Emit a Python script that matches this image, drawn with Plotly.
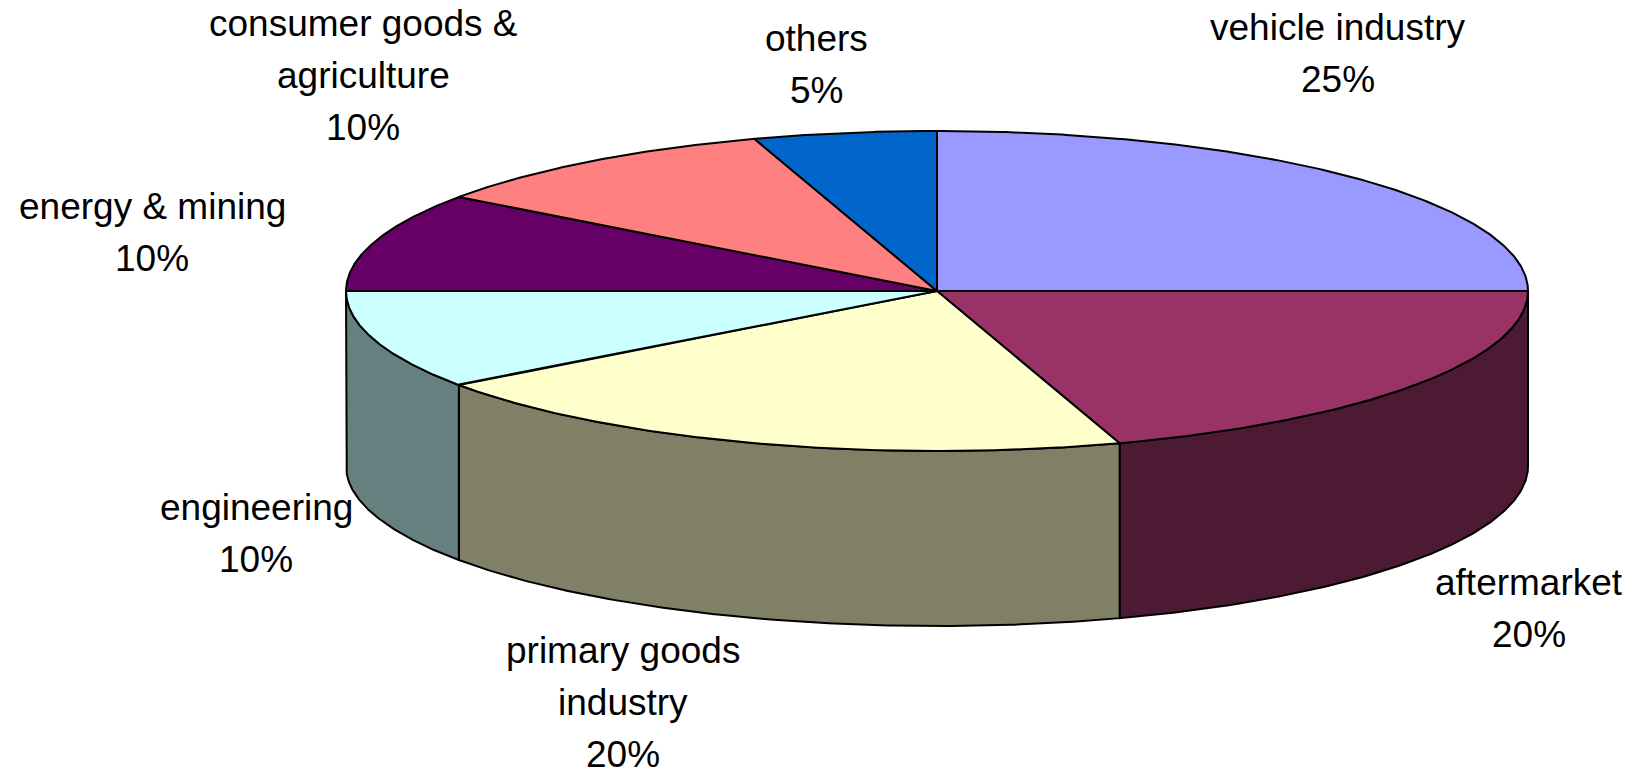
import numpy as np
import plotly.graph_objects as go

# Market share by customer segment (percent)
segments = [
    "vehicle industry",
    "aftermarket",
    "primary goods<br>industry",
    "engineering",
    "energy & mining",
    "consumer goods &<br>agriculture",
    "others",
]
shares = [25, 20, 20, 10, 10, 10, 5]
top_colors = ["#9999FF", "#993366", "#FFFFCC", "#CCFFFF", "#660066", "#FF8080", "#0066CC"]

# Label anchors: (centre x, baseline of first line) in page pixels
label_anchor = [
    (1338, 40),
    (1529, 595),
    (623, 663),
    (256, 520),
    (152, 219),
    (363, 36),
    (816, 51),
]

W, H = 1633, 775
CX, CY = 937, 291        # centre of the top face
RX, RY = 591, 160        # ellipse half-axes of the top face
DEPTH = 175              # thickness of the disc
FONT = dict(family="Liberation Sans, Arial, sans-serif", size=37, color="black")
LINE_STEP = 52


def shade(hex_color, f=0.5):
    h = hex_color.lstrip("#")
    r, g, b = (int(h[i:i + 2], 16) for i in (0, 2, 4))
    return "#%02X%02X%02X" % (round(r * f), round(g * f), round(b * f))


def ellipse_pts(t1, t2, n=200, dy=0.0):
    t = np.radians(np.linspace(t1, t2, n))
    return CX + RX * np.cos(t), CY - RY * np.sin(t) + dy


fig = go.Figure()

# slice angles, clockwise from 12 o'clock
cum = np.concatenate([[0], np.cumsum(shares)]) / float(sum(shares)) * 360.0
starts = 90 - cum[:-1]
ends = 90 - cum[1:]

# visible outer walls (front half of the disc)
for s, e, col in zip(starts, ends, top_colors):
    lo, hi = e, s
    for k in (-360, 0, 360):
        a, b = max(lo, -180 + k), min(hi, 0 + k)
        if b - a > 1e-9:
            xt, yt = ellipse_pts(b, a)
            xb, yb = ellipse_pts(a, b, dy=DEPTH)
            xs = np.concatenate([xt, xb, [xt[0]]])
            ys = np.concatenate([yt, yb, [yt[0]]])
            fig.add_trace(go.Scatter(
                x=xs, y=ys, mode="lines", fill="toself",
                fillcolor=shade(col), line=dict(color="black", width=2),
                hoverinfo="skip", showlegend=False))

# top faces
for s, e, col in zip(starts, ends, top_colors):
    xa, ya = ellipse_pts(s, e)
    xs = np.concatenate([[CX], xa, [CX]])
    ys = np.concatenate([[CY], ya, [CY]])
    fig.add_trace(go.Scatter(
        x=xs, y=ys, mode="lines", fill="toself",
        fillcolor=col, line=dict(color="black", width=2),
        hoverinfo="skip", showlegend=False))

# category and percentage labels
annotations = []
for name, val, (ax, ay) in zip(segments, shares, label_anchor):
    lines = name.split("<br>") + ["%d%%" % val]
    for i, ln in enumerate(lines):
        annotations.append(dict(
            x=ax, y=ay + i * LINE_STEP - 13, xref="x", yref="y",
            text=ln, showarrow=False, xanchor="center", yanchor="middle",
            font=FONT))

fig.update_layout(
    width=W, height=H,
    margin=dict(l=0, r=0, t=0, b=0),
    paper_bgcolor="white", plot_bgcolor="white",
    xaxis=dict(range=[0, W], visible=False, fixedrange=True),
    yaxis=dict(range=[H, 0], visible=False, fixedrange=True),
    annotations=annotations,
    showlegend=False,
)

fig.write_html("out.html")
